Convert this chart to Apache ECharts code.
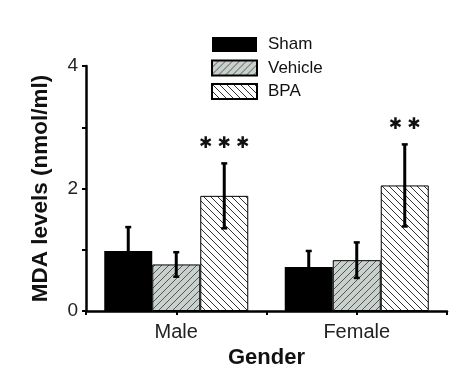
<!DOCTYPE html>
<html><head><meta charset="utf-8">
<script src="https://cdn.jsdelivr.net/npm/echarts@6/dist/echarts.min.js"></script>
<style>html,body{margin:0;padding:0;background:#fff}#c{width:474px;height:370px}</style>
</head><body><div id="c"></div>
<script>
const categories = ['Male', 'Female'];
const seriesNames = ['Sham', 'Vehicle', 'BPA'];
const shamMean = [0.98, 0.72];
const shamSD = [0.39, 0.26];
const vehicleMean = [0.76, 0.83];
const vehicleSD = [0.20, 0.29];
const bpaMean = [1.88, 2.05];
const bpaSD = [0.53, 0.67];
const significance = ['✱✱✱', '✱✱'];
const yTicks = [0, 2, 4];

function hatch(bg, fg, dir) {
  const s = 7;
  const c = document.createElement('canvas');
  c.width = s; c.height = s;
  const g = c.getContext('2d');
  g.fillStyle = bg; g.fillRect(0, 0, s, s);
  g.strokeStyle = fg; g.lineWidth = 1;
  g.beginPath();
  if (dir > 0) {
    g.moveTo(0, s); g.lineTo(s, 0);
    g.moveTo(-1, 1); g.lineTo(1, -1);
    g.moveTo(s - 1, s + 1); g.lineTo(s + 1, s - 1);
  } else {
    g.moveTo(0, 0); g.lineTo(s, s);
    g.moveTo(-1, s - 1); g.lineTo(1, s + 1);
    g.moveTo(s - 1, -1); g.lineTo(s + 1, 1);
  }
  g.stroke();
  return { image: c, repeat: 'repeat' };
}

const means = [shamMean, vehicleMean, bpaMean];
const sds = [shamSD, vehicleSD, bpaSD];
const colors = ['#000000', hatch('#c9d1cd', '#555555', 1), hatch('#ffffff', '#333333', -1)];
const BW = 48;

const errData = [];
for (let s = 0; s < 3; s++) for (let c = 0; c < categories.length; c++)
  errData.push([c, means[s][c] - sds[s][c], means[s][c] + sds[s][c], s]);
const sigData = categories.map((c, i) => [i, bpaMean[i] + bpaSD[i], significance[i]]);

const font = 'Liberation Sans, Arial, sans-serif';
const chart = echarts.init(document.getElementById('c'), null, { renderer: 'canvas' });
chart.setOption({
  animation: false,
  backgroundColor: '#fff',
  grid: { left: 86, right: 27, top: 66, bottom: 59, containLabel: false, outerBoundsMode: 'none' },
  legend: {
    orient: 'vertical', left: 211, top: 36, padding: 0, icon: 'rect',
    itemWidth: 45, itemHeight: 15, itemGap: 6.5,
    data: seriesNames,
    textStyle: { fontFamily: font, fontSize: 17, color: '#111', padding: [0, 0, 0, 6] }
  },
  xAxis: [{
    type: 'category', data: categories,
    axisLine: { lineStyle: { color: '#000', width: 2.5 } },
    axisTick: { show: true, alignWithLabel: true, length: 4, lineStyle: { color: '#000', width: 2 } },
    axisLabel: { fontFamily: font, fontSize: 20, color: '#222', margin: 11 },
    name: 'Gender', nameLocation: 'middle', nameGap: 27,
    nameTextStyle: { fontFamily: font, fontSize: 22, fontWeight: 'bold', color: '#111' }
  }, {
    type: 'category', data: categories, position: 'bottom',
    axisLine: { show: false },
    axisTick: { show: true, length: 4, lineStyle: { color: '#000', width: 2 } },
    axisLabel: { show: false }
  }],
  yAxis: {
    type: 'value', min: 0, max: 4, interval: 2,
    splitLine: { show: false },
    axisLine: { show: true, lineStyle: { color: '#000', width: 2.5 } },
    axisTick: { show: true, length: 4, lineStyle: { color: '#000', width: 2 } },
    minorTick: { show: true, splitNumber: 2, length: 4, lineStyle: { color: '#000', width: 2 } },
    axisLabel: { fontFamily: font, fontSize: 19, color: '#222', margin: 8,
      formatter: v => yTicks.includes(v) ? String(v) : '' },
    name: 'MDA levels (nmol/ml)', nameLocation: 'middle', nameGap: 34,
    nameTextStyle: { fontFamily: font, fontSize: 22.5, fontWeight: 'bold', color: '#111' }
  },
  series: [
    ...seriesNames.map((n, i) => ({
      name: n, type: 'bar', data: means[i], barWidth: BW, barGap: '0%',
      itemStyle: { color: colors[i], borderColor: '#000', borderWidth: i === 0 ? 0 : 1 }
    })),
    {
      type: 'custom', data: errData, z: 10,
      renderItem(params, api) {
        const c = api.value(0), s = api.value(3);
        const lo = api.coord([c, api.value(1)]);
        const hi = api.coord([c, api.value(2)]);
        const x = lo[0] + (s - 1) * BW;
        const st = { stroke: '#000', lineWidth: 3 };
        return { type: 'group', children: [
          { type: 'line', shape: { x1: x, y1: lo[1], x2: x, y2: hi[1] }, style: st },
          { type: 'line', shape: { x1: x - 3, y1: hi[1], x2: x + 3, y2: hi[1] }, style: { stroke: '#000', lineWidth: 2.5 } },
          { type: 'line', shape: { x1: x - 3, y1: lo[1], x2: x + 3, y2: lo[1] }, style: { stroke: '#000', lineWidth: 2.5 } }
        ]};
      }
    },
    {
      type: 'custom', data: sigData, z: 10,
      renderItem(params, api) {
        const p = api.coord([api.value(0), api.value(1)]);
        return { type: 'text', x: p[0] + BW, y: p[1] - 20,
          style: { text: sigData[params.dataIndex][2].split('').join(' '),
            font: '16px DejaVu Sans, sans-serif', fill: '#111',
            textAlign: 'center', textVerticalAlign: 'middle' } };
      }
    }
  ]
});
</script></body></html>
